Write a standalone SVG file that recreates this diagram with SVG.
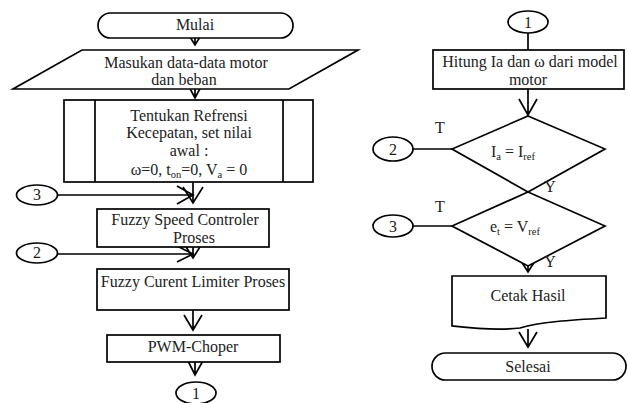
<svg xmlns="http://www.w3.org/2000/svg" width="628" height="403" viewBox="0 0 628 403">
<style>
.s{fill:#fff;stroke:#000;stroke-width:1.7}
.c{fill:none;stroke:#000;stroke-width:1.7}
text{font-family:"Liberation Serif","Times New Roman",serif;font-size:16px;fill:#222;text-anchor:middle}
.sub{font-size:10.5px}
</style>
<rect width="628" height="403" fill="#fff"/>
<g id="connectors">
<path class="c" d="M195,38 V45 M185,29 L195,45 L205,29"/>
<path class="c" d="M195,89 V98 M187,83 L195,98 L203,83"/>
<path class="c" d="M193,182 V203 M183,187 L193,203 L203,187"/>
<path class="c" d="M58,195 H193 M177,186 L193,195 L177,204"/>
<path class="c" d="M193,247 V258 M183,242 L193,258 L203,242"/>
<path class="c" d="M58,254 H193 M177,246 L193,254 L177,262"/>
<path class="c" d="M193,310 V330 M184,315 L193,330 L202,315"/>
<path class="c" d="M195,362 V375 M187,359 L195,375 L204,359"/>
<path class="c" d="M528,33 V50"/>
<path class="c" d="M528,89 V115 M519,99 L528,115 L537,99"/>
<path class="c" d="M519,174 L528,192 L537,174"/>
<path class="c" d="M413,149 H452"/>
<path class="c" d="M413,226 H452"/>
<path class="c" d="M528,266 V272 M519,258 L528,272 L537,258"/>
<path class="c" d="M528,329 V347 M519,332 L528,347 L537,332"/>
</g>
<g id="mulai">
<rect class="s" x="98" y="13" width="195" height="25" rx="12.5"/>
<text x="195" y="30">Mulai</text>
</g>
<g id="input">
<polygon class="s" points="82,50 358,50 289,89 13,89"/>
<text x="186" y="68">Masukan data-data motor</text>
<text x="184" y="85">dan beban</text>
</g>
<g id="predefined">
<rect class="s" x="64" y="100" width="249" height="82"/>
<path class="c" d="M95,100 V182 M283,100 V182"/>
<text x="189" y="121">Tentukan Refrensi</text>
<text x="189" y="138">Kecepatan, set nilai</text>
<text x="189" y="156">awal :</text>
<text x="189" y="175">ω=0, t<tspan class="sub" dy="3">on</tspan><tspan dy="-3">=0, V</tspan><tspan class="sub" dy="3">a</tspan><tspan dy="-3"> = 0</tspan></text>
</g>
<g id="conn3-left">
<ellipse class="s" cx="37" cy="195" rx="20.5" ry="10"/>
<text x="37" y="200">3</text>
</g>
<g id="fuzzy-speed">
<rect class="s" x="97" y="209" width="172" height="38"/>
<text x="185" y="225">Fuzzy Speed Controler</text>
<text x="194" y="243">Proses</text>
</g>
<g id="conn2-left">
<ellipse class="s" cx="37" cy="253" rx="20.5" ry="10"/>
<text x="37" y="258">2</text>
</g>
<g id="fuzzy-current">
<rect class="s" x="97" y="269" width="192" height="41"/>
<text x="193" y="287">Fuzzy Curent Limiter Proses</text>
</g>
<g id="pwm">
<rect class="s" x="107" y="335" width="173" height="27"/>
<text x="193" y="352">PWM-Choper</text>
</g>
<g id="conn1-left">
<ellipse class="s" cx="196" cy="393" rx="20" ry="11"/>
<text x="196" y="399">1</text>
</g>
<g id="conn1-right">
<ellipse class="s" cx="528" cy="22" rx="20" ry="11"/>
<text x="528" y="28">1</text>
</g>
<g id="hitung">
<rect class="s" x="433" y="50" width="191" height="39"/>
<text x="530" y="67">Hitung Ia dan ω dari model</text>
<text x="528" y="85">motor</text>
</g>
<g id="decision1">
<polygon class="s" points="528,116 605,149 528,192 452,149"/>
<text x="513" y="157">I<tspan class="sub" dy="3">a</tspan><tspan dy="-3"> = I</tspan><tspan class="sub" dy="3">ref</tspan></text>
<text x="440" y="133">T</text>
<text x="550" y="192">Y</text>
</g>
<g id="conn2-right">
<ellipse class="s" cx="393" cy="149" rx="20" ry="12"/>
<text x="393" y="155">2</text>
</g>
<g id="decision2">
<polygon class="s" points="528,192 605,226 528,266 452,226"/>
<text x="515" y="232">e<tspan class="sub" dy="3">t</tspan><tspan dy="-3"> = V</tspan><tspan class="sub" dy="3">ref</tspan></text>
<text x="440" y="212">T</text>
<text x="550" y="267">Y</text>
</g>
<g id="conn3-right">
<ellipse class="s" cx="393" cy="226" rx="20" ry="11"/>
<text x="393" y="232">3</text>
</g>
<g id="cetak">
<path class="s" d="M452,276 H606 V318 C570,320 540,322 520,328 C495,331 470,328 452,326 Z"/>
<text x="528" y="301">Cetak Hasil</text>
</g>
<g id="selesai">
<rect class="s" x="432" y="353" width="194" height="27" rx="13.5"/>
<text x="528" y="372">Selesai</text>
</g>
</svg>
